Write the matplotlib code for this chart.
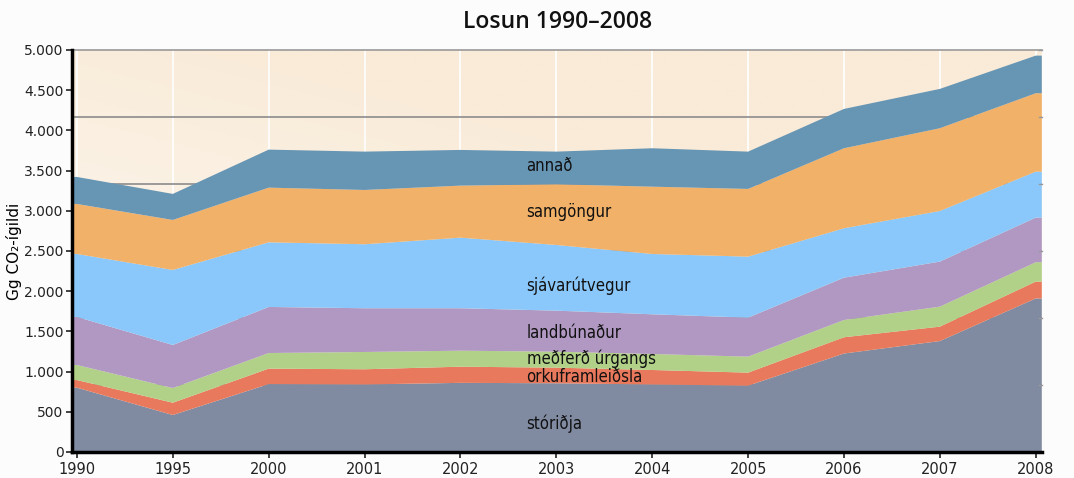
#!/usr/bin/env python3
"""Stacked emissions chart, Losun 1990-2008."""
import matplotlib
matplotlib.use("Agg")
import matplotlib.pyplot as plt  # noqa: E402
import numpy as np  # noqa: E402
from matplotlib.colors import LinearSegmentedColormap  # noqa: E402
from matplotlib.ticker import FuncFormatter  # noqa: E402

years = ["1990", "1995", "2000", "2001", "2002", "2003", "2004", "2005", "2006", "2007", "2008"]
storidja = [800, 460, 845, 840, 860, 855, 840, 825, 1225, 1380, 1910]
orkuframleidsla = [95, 153, 192, 189, 201, 194, 180, 162, 202, 179, 209]
medferd_urgangs = [187, 183, 194, 215, 199, 199, 199, 199, 215, 249, 241]
landbunadur = [598, 535, 573, 544, 528, 510, 494, 485, 526, 560, 555]
sjavarutvegur = [783, 933, 804, 796, 878, 817, 750, 759, 615, 630, 572]
samgongur = [622, 622, 680, 675, 647, 755, 837, 842, 995, 1029, 975]
annad = [336, 324, 473, 477, 444, 406, 478, 464, 489, 489, 468]

series = [storidja, orkuframleidsla, medferd_urgangs, landbunadur, sjavarutvegur, samgongur, annad]
names = ["stóriðja", "orkuframleiðsla", "meðferð úrgangs", "landbúnaður",
         "sjávarútvegur", "samgöngur", "annað"]
colors = ["#808ba2", "#e9795c", "#b1d189", "#b098c3", "#8ac8fb", "#f1b168", "#6795b4"]
label_y = [350, 935, 1160, 1480, 2065, 2985, 3560]

y_ticks = [0, 500, 1000, 1500, 2000, 2500, 3000, 3500, 4000, 4500, 5000]

fig = plt.figure(figsize=(10.74, 4.78), dpi=100, facecolor="#fcfcfc")
ax = fig.add_axes([0.067, 0.0544, 0.903, 0.841])

x = np.arange(len(years))
xlim = (-0.052, len(years) - 1 + 0.063)
ax.set_xlim(*xlim)
ax.set_ylim(0, 5000)

# cream background gradient (whiter towards lower left)
gx, gy = np.meshgrid(np.linspace(0, 1, 200), np.linspace(0, 1, 200))
grad = np.clip(0.55 * gx + 0.9 * gy, 0, 1)
cmap = LinearSegmentedColormap.from_list("bg", ["#fefbf8", "#f9ebd8"])
ax.imshow(grad, extent=(xlim[0], xlim[1], 0, 5000), origin="lower", aspect="auto",
          cmap=cmap, zorder=0)

for xi in x:
    ax.axvline(xi, color="white", lw=1.2, zorder=1)
for k in range(1, 6):
    ax.axhline(5000 * k / 6, color="#8c8c8c", lw=1.2, zorder=1)

# extend edge values to the axes limits so the fill reaches the spines
x_ext = np.r_[xlim[0], x, xlim[1]]
stack = [np.pad(np.asarray(s, dtype=float), 1, mode="edge") for s in series]
ax.stackplot(x_ext, *stack, colors=colors, linewidth=0, zorder=2)

for name, ly in zip(names, label_y):
    ax.text(4.69, ly, name, ha="left", va="center", fontsize=12,
            family="DejaVu Sans", fontstretch="condensed", color="#111111", zorder=3)

ax.set_xticks(x)
ax.set_xticklabels(years)
ax.set_yticks(y_ticks)
ax.yaxis.set_major_formatter(FuncFormatter(lambda v, _: f"{int(v):,}".replace(",", ".")))
ax.tick_params(axis="both", labelsize=10.5, colors="#222222", length=4, width=1.2, direction="out")
ax.tick_params(axis="y", labelsize=10, pad=2)
ax.tick_params(axis="x", pad=3)
ax.set_ylabel("Gg CO₂-ígildi", fontsize=11)
ax.yaxis.set_label_coords(-0.052, 0.5)

for side in ("left", "bottom"):
    ax.spines[side].set_linewidth(2.5)
    ax.spines[side].set_color("black")
    ax.spines[side].set_zorder(4)
ax.spines["top"].set_color("#999999")
ax.spines["top"].set_linewidth(1.2)
ax.spines["right"].set_visible(False)

# faint ticks on the right edge
for k in range(1, 7):
    ax.plot([xlim[1] - 0.03, xlim[1]], [5000 * k / 6] * 2, color="#999999", lw=1,
            clip_on=False, zorder=4)

fig.text(0.519, 0.955, "Losun 1990–2008", ha="center", va="center", fontsize=16.5,
         family="Open Sans", fontweight="semibold", color="#111111")

fig.savefig("out.png", dpi=100, facecolor=fig.get_facecolor())
